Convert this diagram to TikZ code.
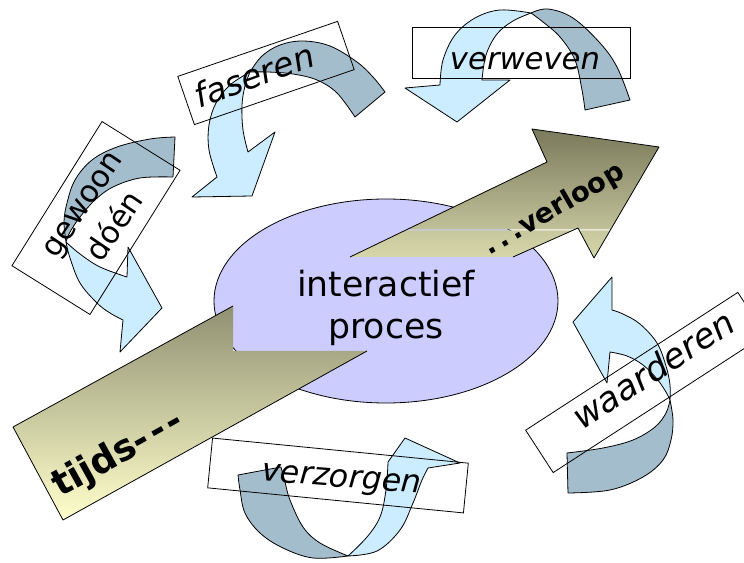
\documentclass[tikz,border=0pt]{standalone}
\usepackage{fontspec}
\setmainfont{DejaVu Sans}
\usetikzlibrary{shapes.geometric}
\definecolor{lightblue}{RGB}{204,236,255}
\definecolor{greyblue}{RGB}{164,189,205}
\definecolor{lav}{RGB}{204,204,255}
\definecolor{olA}{RGB}{122,122,92}
\definecolor{olB}{RGB}{192,192,152}
\definecolor{olC}{RGB}{200,200,158}
\definecolor{olD}{RGB}{214,214,170}
\definecolor{olE}{RGB}{145,145,115}
\definecolor{olF}{RGB}{255,255,204}
\begin{document}
\begin{tikzpicture}[x=0.75pt,y=-0.75pt,
  outl/.style={draw=black,line width=0.6pt,line join=round},
  front/.style={outl,fill=lightblue},
  back/.style={outl,fill=greyblue},
  lbox/.style={draw=black,line width=0.6pt,inner sep=0pt,outer sep=0pt,fill=none},
  lab/.style={inner sep=0pt,outer sep=0pt,text=black},
  sm/.style={smooth,tension=0.6}]
\useasboundingbox (0,0) rectangle (744,563);
\clip (0,0) rectangle (744,563);

% central ellipse
\node[ellipse,draw=black,line width=0.6pt,fill=lav,inner sep=0pt,
      minimum width=258pt,minimum height=153pt] (proc) at (386,301) {};

% lower band "tijds---"
\shade[top color=olE,bottom color=olF] (13,427) -- (233,306) -- (233,351) -- (367,351) -- (63,520) -- cycle;
\draw[outl] (233,306) -- (13,427) -- (63,520) -- (367,351);

% upper arrow "...verloop"
\shade[top color=olA,bottom color=olB] (406.5,229.5) -- (547,162) -- (532,129) -- (659,147) -- (610.8,229.5) -- (579,229.5) -- (578,228) -- (573.5,229.5) -- cycle;
\shade[top color=olC,bottom color=olD] (405,230.5) -- (572.4,230.5) -- (513,257) -- (350,257) -- cycle;
\shade[top color=olC,bottom color=olD] (579.3,230.5) -- (610.1,230.5) -- (594,258) -- cycle;
\draw[outl] (513,257) -- (578,228) -- (594,258) -- (659,147) -- (532,129) -- (547,162) -- (350,257);

% verweven arrow
\filldraw[back] plot[sm] coordinates {(531,13) (548,9) (573,18) (600,43) (617,67) (630,100)} -- (585,110)
  -- plot[sm] coordinates {(585,110) (582,90) (575,60) (560,37) (543,22) (531,13)} -- cycle;
\filldraw[front] plot[sm] coordinates {(440,85) (443,60) (455,35) (475,18) (500,10) (531,13)}
  -- plot[sm] coordinates {(531,13) (513,21) (497,34) (486,55) (482,80)} -- (510,80) -- (457,122) -- (405,88) -- cycle;

% faseren arrow
\filldraw[back] plot[sm] coordinates {(250,72) (262,56) (280,45) (303,41) (330,46) (357,62) (373,77) (385,92)} -- (355,117)
  -- plot[sm] coordinates {(355,117) (337,93) (317,80) (293,74) (268,72) (250,72)} -- cycle;
\filldraw[front] plot[sm] coordinates {(217,177) (209,150) (209,125) (216,103) (230,85) (250,72)}
  -- plot[sm] coordinates {(250,72) (245,86) (242,105) (243,130) (248,152)} -- (275,132) -- (252,196) -- (192,197) -- cycle;

% gewoon doen arrow
\filldraw[back] plot[sm] coordinates {(66,242) (64,222) (67,203) (75,180) (92,160) (117,147) (150,139) (175,137)} -- (173,177)
  -- plot[sm] coordinates {(173,177) (140,178) (113,187) (95,200) (80,217) (70,232) (66,242)} -- cycle;
\filldraw[front] plot[sm] coordinates {(66,242) (70,258) (80,283) (97,303) (110,313) (123,320)} -- (120,352) -- (162,308) -- (128,247) -- (127,277)
  -- plot[sm] coordinates {(127,277) (100,267) (80,254) (66,242)} -- cycle;

% waarderen arrow
\filldraw[back] plot[sm] coordinates {(670,400) (673,420) (671,440) (663,460) (643,477) (610,490) (568,493)} -- (567,453)
  -- plot[sm] coordinates {(567,453) (603,448) (633,440) (655,427) (666,413) (670,400)} -- cycle;
\filldraw[front] plot[sm] coordinates {(670,400) (670,385) (666,366) (657,343) (640,324) (623,314) (612,310)} -- (612,277) -- (573,322) -- (607,383) -- (610,352)
  -- plot[sm] coordinates {(610,352) (627,356) (643,365) (657,379) (666,392) (670,400)} -- cycle;

% verzorgen arrow
\filldraw[back] plot[sm] coordinates {(348,556) (313,558) (283,548) (260,533) (245,513) (240,490) (238,475)} -- (281,467)
  -- plot[sm] coordinates {(281,467) (285,482) (290,500) (303,527) (320,543) (348,556)} -- cycle;
\filldraw[front] plot[sm] coordinates {(348,556) (377,551) (400,530) (413,503) (422,480) (428,468)} -- (460,463) -- (405,438) -- (388,462)
  -- plot[sm] coordinates {(388,462) (386,490) (380,517) (367,537) (348,556)} -- cycle;

% label boxes
\node[lbox,minimum width=126.75pt,minimum height=38.25pt,rotate=19] (bfas) at (266,73) {};
\node[lbox,minimum width=163.5pt,minimum height=38.25pt] (bver) at (521,52.5) {};
\node[lbox,minimum width=127.5pt,minimum height=69pt,rotate=58] (bgew) at (96,218) {};
\node[lbox,minimum width=189.75pt,minimum height=37.9pt,rotate=33] (bwaa) at (645.5,382.5) {};
\node[lbox,minimum width=192.75pt,minimum height=37.5pt,rotate=-5.6] (bzorg) at (338,475.5) {};

% texts
\node[lab,font=\fontsize{26}{31.5}\selectfont,align=center] (tproc) at (386,308) {interactief\\proces};
\node[lab,font=\itshape\fontsize{25}{30}\selectfont,rotate=20,anchor=base] (tfas) at (258,87) {faseren};
\node[lab,font=\itshape\fontsize{23}{28}\selectfont,anchor=base] (tver) at (525,70) {verweven};
\node[lab,font=\fontsize{23}{30}\selectfont,align=center,rotate=56] (tgew) at (99.5,216) {gewoon\\dóén};
\node[lab,font=\itshape\fontsize{26}{30}\selectfont,rotate=33,anchor=base] (twaa) at (660,380) {waarderen};
\node[lab,font=\itshape\fontsize{23.8}{28}\selectfont,rotate=-4.4,anchor=base] (tzorg) at (341,487) {verzorgen};
\node[lab,font=\bfseries\fontsize{27.5}{34}\selectfont,rotate=29,anchor=base west] (ttijd) at (60,498) {tijds-\kern3pt-\kern3pt-};
\node[lab,font=\bfseries\fontsize{20.5}{24}\selectfont,rotate=30,anchor=base west] (tverl) at (489,256) {.\kern3.5pt.\kern3.5pt.\kern1pt verloop};
\end{tikzpicture}
\end{document}
